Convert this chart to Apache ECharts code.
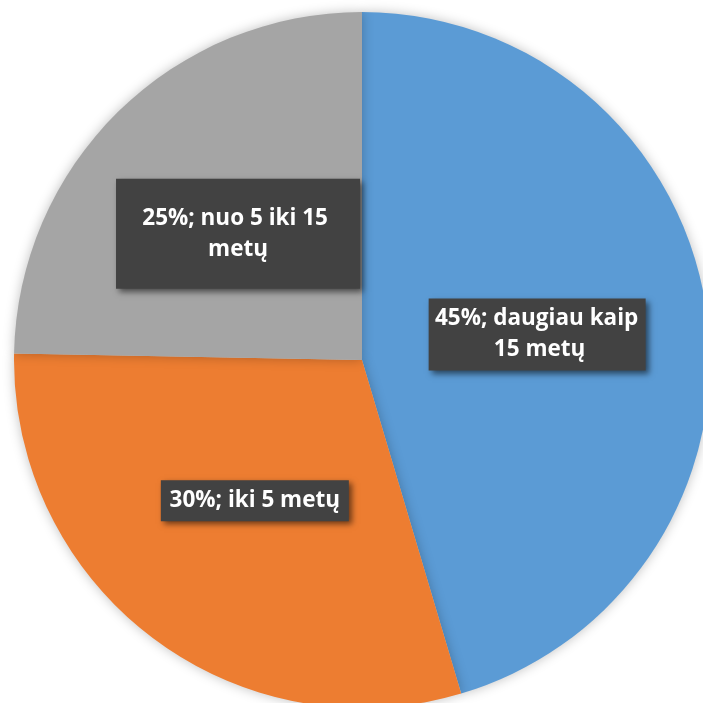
<!DOCTYPE html>
<html><head><meta charset="utf-8">
<script src="https://cdn.jsdelivr.net/npm/echarts@6/dist/echarts.min.js"></script>
<style>html,body{margin:0;padding:0;background:#fff}#c{width:703px;height:703px}</style>
</head><body><div id="c"></div>
<script>
const categories = ['daugiau kaip 15 metų', 'iki 5 metų', 'nuo 5 iki 15 metų'];
const values = [45.4, 29.9, 24.7];
const colors = ['#5B9BD5', '#ED7D31', '#A5A5A5'];
const labelWidths = [204, 186, 192];
const labelPads = [[5, 7, 5, 6], [5, 1, 5, 1], [24, 26, 24, 26]];

const chart = echarts.init(document.getElementById('c'));
chart.setOption({
  animation: false,
  series: [{
    type: 'pie',
    center: [362, 360],
    radius: [0, 348],
    startAngle: 90,
    clockwise: true,
    label: {
      show: true,
      position: 'inside',
      formatter: p => Math.round(p.percent) + '%; ' + p.name,
      color: '#fff',
      fontFamily: '"Open Sans", sans-serif',
      fontWeight: 'bold',
      fontSize: 22.5,
      lineHeight: 31,
      backgroundColor: '#424242',
      overflow: 'break',
      align: 'center',
      shadowColor: 'rgba(0,0,0,0.55)',
      shadowBlur: 6,
      shadowOffsetX: 3,
      shadowOffsetY: 3
    },
    labelLine: { show: false },
    itemStyle: {
      shadowColor: 'rgba(0,0,0,0.25)',
      shadowBlur: 12
    },
    data: categories.map((n, i) => ({
      name: n,
      value: values[i],
      itemStyle: { color: colors[i] },
      label: { width: labelWidths[i], padding: labelPads[i] }
    }))
  }]
});
</script></body></html>
